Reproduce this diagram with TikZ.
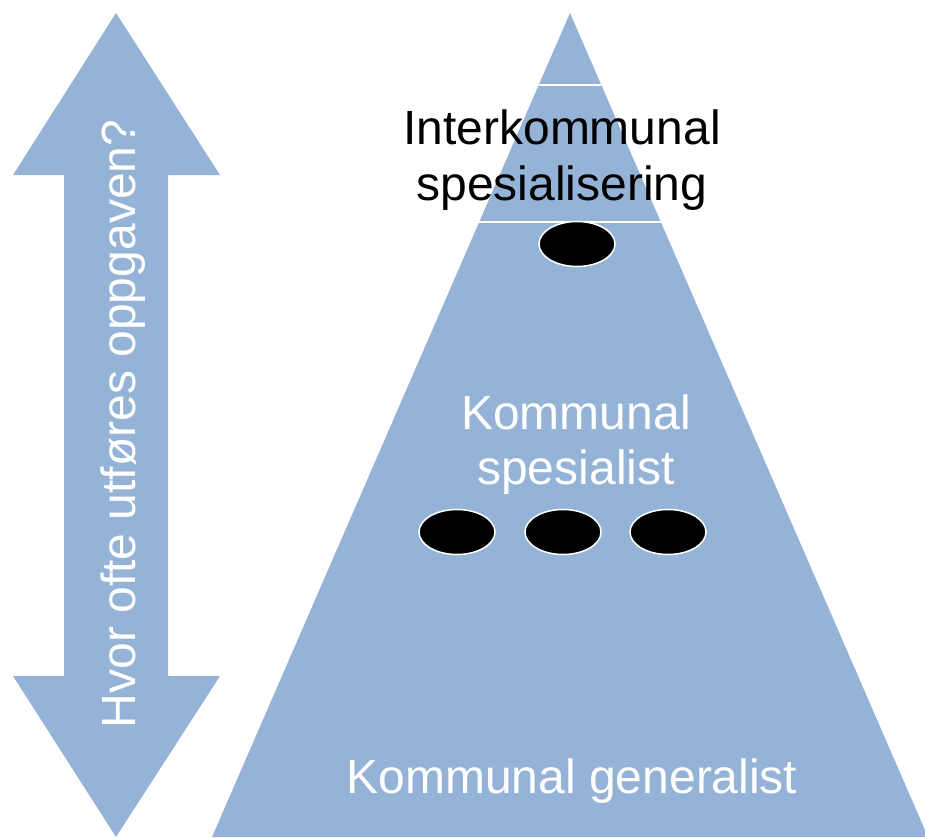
\documentclass[tikz,border=0pt]{standalone}
\usepackage{fontspec}
\setmainfont{Liberation Sans}
\usetikzlibrary{shapes.geometric,calc}
\definecolor{pyrblue}{RGB}{149,179,215}
\tikzset{
  level/.style={font=\fontsize{48}{55}\selectfont, align=center, anchor=base, inner sep=0pt},
  hole/.style={ellipse, fill=black, draw=white, line width=1.5pt, minimum width=76pt, minimum height=45pt, inner sep=0pt},
  cut/.style={draw=white, line width=1.5pt}
}
\begin{document}
\begin{tikzpicture}[x=1pt,y=-1pt]
  \useasboundingbox (0,0) rectangle (925,837);
  \clip (0,0) rectangle (925,837);
  \fill[pyrblue] (116,13) -- (220,175) -- (168,175) -- (168,676) -- (220,676) -- (116,837)
    -- (13,676) -- (64,676) -- (64,175) -- (13,175) -- cycle;
  \coordinate (apex) at (570,13);
  \coordinate (bl) at (212,837);
  \coordinate (br) at (928,837);
  \fill[pyrblue] (apex) -- (bl) -- (br) -- cycle;
  \coordinate (t1l) at ($(apex)!0.0874!(bl)$);
  \coordinate (t1r) at ($(apex)!0.0874!(br)$);
  \coordinate (t2l) at ($(apex)!0.2536!(bl)$);
  \coordinate (t2r) at ($(apex)!0.2536!(br)$);
  \draw[cut] (t1l) -- (t1r);
  \draw[cut] (t2l) -- (t2r);
  \node[level, text=black] (inter) at (562,200) {Interkommunal\\spesialisering};
  \node[level, text=white] (spes) at (576,484) {Kommunal\\spesialist};
  \node[level, text=white] (gen) at (572,793) {Kommunal generalist};
  \node[level, text=white, rotate=90] (often) at (135,424) {Hvor ofte utføres oppgaven?};
  \node[hole] (h1) at (577,244) {};
  \node[hole] (h2) at (457,532) {};
  \node[hole] (h3) at (563,532) {};
  \node[hole] (h4) at (668,532) {};
\end{tikzpicture}
\end{document}
